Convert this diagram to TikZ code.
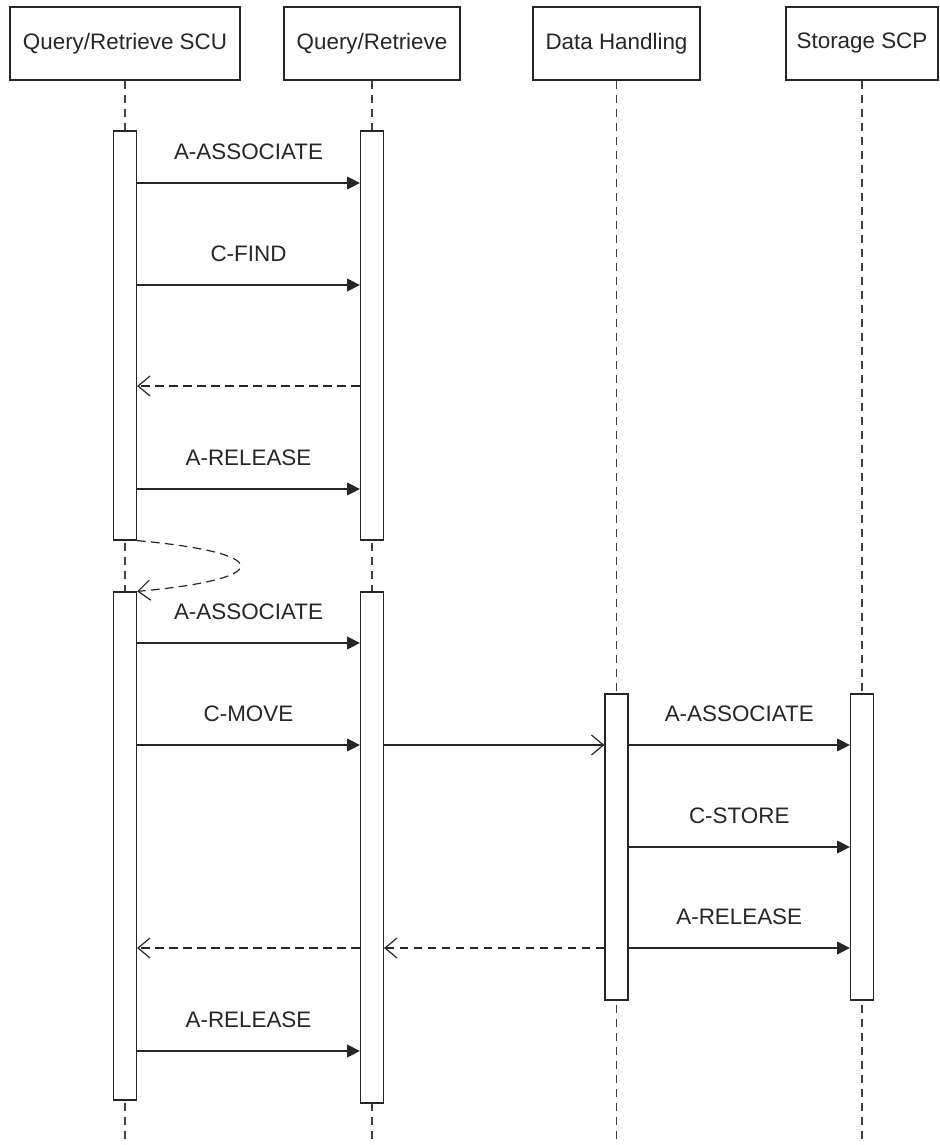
\documentclass[tikz,border=0pt]{standalone}
\usepackage{fontspec}
\setmainfont{Liberation Sans}
\usetikzlibrary{arrows.meta}

\begin{document}
\begin{tikzpicture}[
			x=0.75pt, y=-0.75pt,
			font=\fontsize{16.8}{20}\selectfont,
			color=black!85, line width=0.9pt,
			head/.style={rectangle,draw,minimum height=54.75pt,inner sep=0pt},
			bar/.style={rectangle,draw,fill=white,minimum width=17.25pt,inner sep=0pt},
			life/.style={draw=black!75,line width=1.1pt,dash pattern=on 6.5pt off 4pt},
			call/.style={-{Triangle[length=9.5pt,width=9.5pt]}},
			pass/.style={-{Straight Barb[length=9pt,width=15pt]}},
			reply/.style={dash pattern=on 6.5pt off 4pt,-{Straight Barb[length=9pt,width=15pt]}},
			lbl/.style={above=17pt,inner sep=0pt,midway},
			]
			\useasboundingbox (0,0) rectangle (939,1145);
			\coordinate (bottom) at (0,1145);
			% participants
			\node [head,minimum width=172.5pt] (qrscu) at (125,43.5) {Query/Retrieve SCU};
			\node [head,minimum width=132pt] (qr) at (372,43.5) {Query/Retrieve};
			\node [head,minimum width=125.25pt] (dh) at (616.5,43.5) {Data Handling};
			\node [head,minimum width=114pt] (scp) at (862,43.5) {Storage SCP};
			\foreach \p in {qrscu,qr,dh,scp}
				\draw[life] (\p.south) -- (\p.south |- bottom);
			% activations
			\node [bar,minimum height=306.75pt] (scuA) at (125,335.5) {};
			\node [bar,minimum height=381pt] (scuB) at (125,846) {};
			\node [bar,minimum height=306.75pt] (qrA) at (372,335.5) {};
			\node [bar,minimum height=383.25pt] (qrB) at (372,847.5) {};
			\node [bar,minimum height=229.5pt] (dhA) at (616.5,847) {};
			\node [bar,minimum height=229.5pt] (scpA) at (862,847) {};
			% message rows
			\coordinate (r1) at (0,183);
			\coordinate (r2) at (0,285);
			\coordinate (r3) at (0,386);
			\coordinate (r4) at (0,489);
			\coordinate (r5) at (0,643);
			\coordinate (r6) at (0,745);
			\coordinate (r7) at (0,847);
			\coordinate (r8) at (0,948);
			\coordinate (r9) at (0,1051);
			% first association
			\draw[call] (scuA.east |- r1) -- node[lbl] {A-ASSOCIATE} (qrA.west |- r1);
			\draw[call] (scuA.east |- r2) -- node[lbl] {C-FIND} (qrA.west |- r2);
			\draw[reply] (qrA.west |- r3) -- (scuA.east |- r3);
			\draw[call] (scuA.east |- r4) -- node[lbl] {A-RELEASE} (qrA.west |- r4);
			\draw[reply] (scuA.south east) .. controls (275,553) and (275,579) .. (scuB.north east);
			% second association
			\draw[call] (scuB.east |- r5) -- node[lbl] {A-ASSOCIATE} (qrB.west |- r5);
			\draw[call] (scuB.east |- r6) -- node[lbl] {C-MOVE} (qrB.west |- r6);
			\draw[pass] (qrB.east |- r6) -- (dhA.west |- r6);
			\draw[call] (dhA.east |- r6) -- node[lbl] {A-ASSOCIATE} (scpA.west |- r6);
			\draw[call] (dhA.east |- r7) -- node[lbl] {C-STORE} (scpA.west |- r7);
			\draw[call] (dhA.east |- r8) -- node[lbl] {A-RELEASE} (scpA.west |- r8);
			\draw[reply] (dhA.west |- r8) -- (qrB.east |- r8);
			\draw[reply] (qrB.west |- r8) -- (scuB.east |- r8);
			\draw[call] (scuB.east |- r9) -- node[lbl] {A-RELEASE} (qrB.west |- r9);
		\end{tikzpicture}
\end{document}
